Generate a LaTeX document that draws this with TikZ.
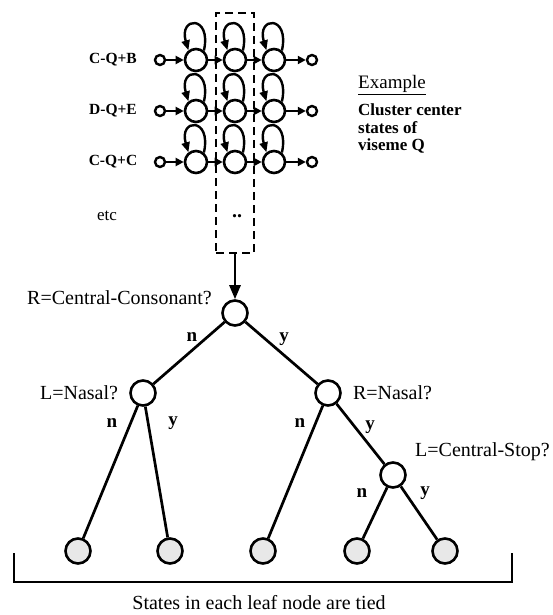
\documentclass[tikz,border=0pt]{standalone}
\usepackage{fontspec}
\setmainfont{Liberation Serif}
\usetikzlibrary{
    arrows.meta,
    positioning,
}

\begin{document}
\begin{tikzpicture}[
        x=1pt, y=-1pt,
        >={Triangle[length=14pt,width=11pt]},
        state/.style={
            circle, draw, line width=2.6pt, minimum size=22pt, inner sep=0pt
        },
        term/.style={
            circle, draw, line width=2.4pt, minimum size=10pt, inner sep=0pt
        },
        quest/.style={
            circle, draw, line width=2.6pt, minimum size=25pt, inner sep=0pt, fill=white
        },
        leaf/.style={quest, fill=gray!18},
        hop/.style={-{Triangle[length=8pt,width=8pt]}, line width=2.4pt},
        loopback/.style={-{Triangle[length=10pt,width=8pt]}, line width=2.4pt},
        link/.style={line width=2.7pt},
        qlabel/.style={font=\fontsize{20}{22}\selectfont, inner sep=1pt},
        branch/.style={font=\fontsize{19}{21}\selectfont\bfseries, inner sep=0pt},
        rowlabel/.style={font=\fontsize{15.5}{17}\selectfont\bfseries},
        note/.style={font=\fontsize{17}{17.5}\selectfont\bfseries, align=left, inner sep=0pt},
    ]
    \useasboundingbox (0,0) rectangle (553,615);

    % ── Selected state column ──
    \node[draw, line width=2.7pt, dash pattern=on 8pt off 5pt,
          minimum width=38pt, minimum height=240pt, inner sep=0pt] (column) at (235,133) {};

    % ── HMM rows ──
    \foreach \r/\y/\lab in {1/60/C-Q+B, 2/111/D-Q+E, 3/162/C-Q+C} {
        \node[rowlabel] (lab\r) at (113,\y) {\lab};
        \node[term] (in\r) at (160,\y) {};
        \node[state] (a\r) at (196,\y) {};
        \node[state] (b\r) at (235,\y) {};
        \node[state] (c\r) at (274,\y) {};
        \node[term] (out\r) at (312,\y) {};
        \draw[hop] (in\r) -- (a\r);
        \draw[hop] (a\r) -- (b\r);
        \draw[hop] (b\r) -- (c\r);
        \draw[hop] (c\r) -- (out\r);
        \foreach \s in {a,b,c}
            \draw[loopback] (\s\r.50) .. controls +(8,-36) and +(-10,-34) .. (\s\r.128);
    }
    \node[font=\fontsize{17}{19}\selectfont] (etc) at (107,216) {etc};
    \node[font=\fontsize{20}{22}\selectfont\bfseries] (dots) at (237,216) {..};

    % ── Example note ──
    \node[anchor=west, font=\fontsize{19}{21}\selectfont, inner sep=0pt] (example) at (358,85) {\underline{Example}};
    \node[note, anchor=north west] (clusternote) at (358,104) {Cluster center\\states of\\viseme Q};

    % ── Decision tree ──
    \node[quest] (root) at (235,313) {};
    \node[quest] (lnasal) at (143,393) {};
    \node[quest] (rnasal) at (328,393) {};
    \node[quest] (lstop) at (393,475) {};

    \node[leaf] (leaf1) at (78,551) {};
    \node[leaf] (leaf2) at (170,551) {};
    \node[leaf] (leaf3) at (263,551) {};
    \node[leaf] (leaf4) at (357,551) {};
    \node[leaf] (leaf5) at (445,551) {};

    \draw[->, line width=2.7pt] (column.south) -- (root.north);
    \draw[link] (root) -- (lnasal);
    \draw[link] (root) -- (rnasal);
    \draw[link] (lnasal) -- (leaf1);
    \draw[link] (lnasal) -- (leaf2);
    \draw[link] (rnasal) -- (leaf3);
    \draw[link] (rnasal) -- (lstop);
    \draw[link] (lstop) -- (leaf4);
    \draw[link] (lstop) -- (leaf5);

    % ── Questions ──
    \node[qlabel, anchor=east] (qroot) at (213,298) {R=Central-Consonant?};
    \node[qlabel, left=10pt of lnasal] (qlnasal) {L=Nasal?};
    \node[qlabel, right=10pt of rnasal] (qrnasal) {R=Nasal?};
    \node[qlabel, anchor=west] (qlstop) at (414,452) {L=Central-Stop?};

    % ── Branch answers ──
    \node[branch] (n1) at (192,337) {n};
    \node[branch] (y1) at (284,339) {y};
    \node[branch] (n2) at (112,423) {n};
    \node[branch] (y2) at (173,423) {y};
    \node[branch] (n3) at (300,423) {n};
    \node[branch] (y3) at (370,427) {y};
    \node[branch] (n4) at (362,493) {n};
    \node[branch] (y4) at (425,493) {y};

    % ── Tied leaves ──
    \draw[line width=2.7pt] (14,553) |- (512,582) -- (512,553);
    \node[qlabel] (tied) at (259,603) {States in each leaf node are tied};

\end{tikzpicture}
\end{document}
